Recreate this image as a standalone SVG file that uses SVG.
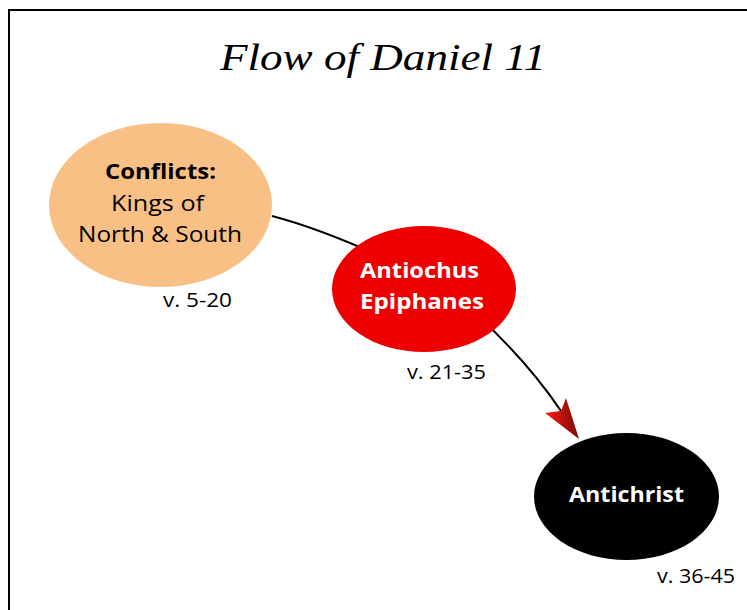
<svg xmlns="http://www.w3.org/2000/svg" width="747" height="610" viewBox="0 0 747 610">
  <style>
    .title { font-family: "Liberation Serif", "DejaVu Serif", serif; font-style: italic; font-size: 38px; fill: #000; }
    .lbl { font-family: "Open Sans", "Noto Sans", sans-serif; font-size: 22px; text-anchor: middle; }
    .bold { font-weight: bold; }
    .ver { font-family: "Open Sans", "Noto Sans", sans-serif; font-size: 20px; fill: #000; }
    .conn { fill: none; stroke: #000; stroke-width: 2; }
  </style>
  <defs>
    <linearGradient id="arrowGrad" x1="0" y1="0" x2="1" y2="0">
      <stop offset="0" stop-color="#ff1a1a"/>
      <stop offset="1" stop-color="#7a0a00"/>
    </linearGradient>
  </defs>
  <rect x="9" y="10" width="760" height="620" fill="none" stroke="#000" stroke-width="2"/>
  <text class="title" x="220" y="70" textLength="326" lengthAdjust="spacingAndGlyphs">Flow of Daniel 11</text>

  <g id="connectors">
    <path class="conn" d="M272,216 Q318,228 380,256"/>
    <path class="conn" d="M478,316 Q528,362 561,411"/>
    <path d="M579,439 L545,413 L561,411 L566,398 Z" fill="url(#arrowGrad)"/>
  </g>

  <g id="node-conflicts">
    <ellipse cx="160.5" cy="205" rx="111.5" ry="82" fill="#f8c085"/>
    <text class="lbl bold" x="160.5" y="179" textLength="111" lengthAdjust="spacingAndGlyphs">Conflicts:</text>
    <text class="lbl" x="157.5" y="211" textLength="93" lengthAdjust="spacingAndGlyphs">Kings of</text>
    <text class="lbl" x="160" y="242" textLength="164" lengthAdjust="spacingAndGlyphs">North &amp; South</text>
    <text class="ver" x="163" y="307" textLength="69" lengthAdjust="spacingAndGlyphs">v. 5-20</text>
  </g>

  <g id="node-antiochus">
    <ellipse cx="424" cy="289" rx="92" ry="63" fill="#ee0000"/>
    <text class="lbl bold" x="419.5" y="278" fill="#fff" textLength="119" lengthAdjust="spacingAndGlyphs">Antiochus</text>
    <text class="lbl bold" x="422" y="309" fill="#fff" textLength="124" lengthAdjust="spacingAndGlyphs">Epiphanes</text>
    <text class="ver" x="407" y="379" textLength="79" lengthAdjust="spacingAndGlyphs">v. 21-35</text>
  </g>

  <g id="node-antichrist">
    <ellipse cx="626.5" cy="496.5" rx="92.5" ry="63.5" fill="#000"/>
    <text class="lbl bold" x="626.5" y="502" fill="#fff" textLength="115" lengthAdjust="spacingAndGlyphs">Antichrist</text>
    <text class="ver" x="657" y="583" textLength="78" lengthAdjust="spacingAndGlyphs">v. 36-45</text>
  </g>
</svg>
